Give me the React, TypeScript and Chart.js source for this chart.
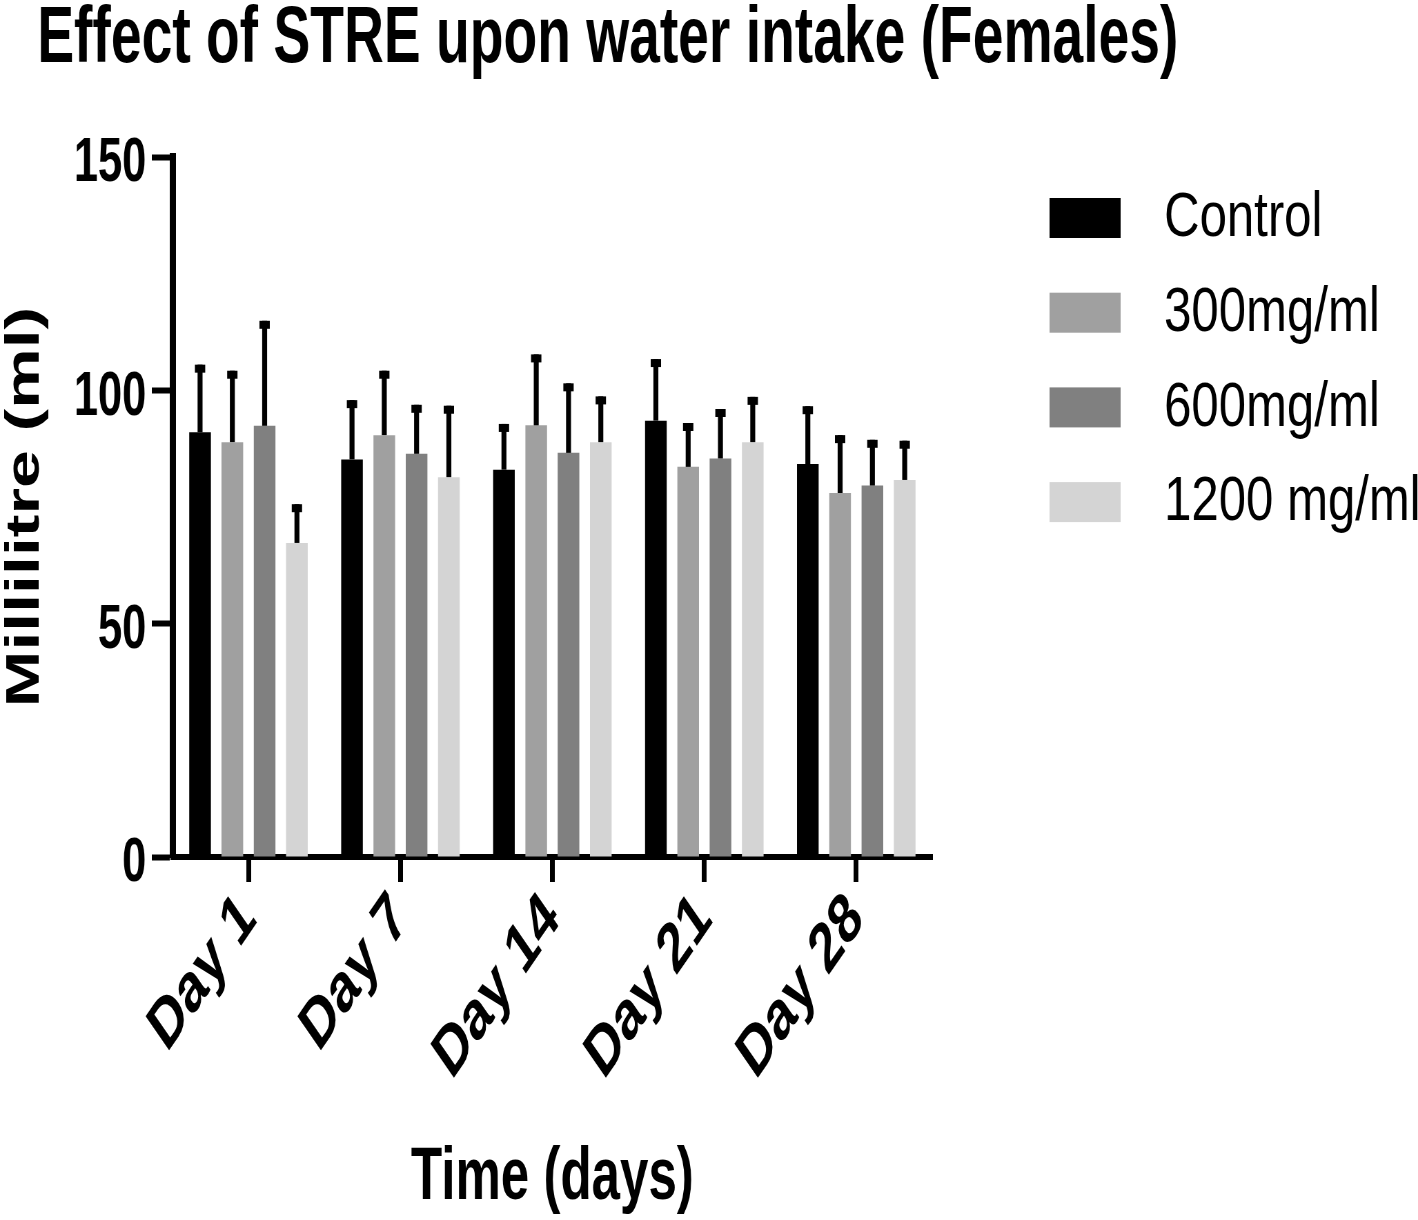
import React, { useEffect, useRef } from 'react';
import { Chart, registerables } from 'chart.js';

Chart.register(...registerables);

// ---- data ----
const categories = ['Day 1', 'Day 7', 'Day 14', 'Day 21', 'Day 28'];
const seriesNames = ['Control', '300mg/ml', '600mg/ml', '1200 mg/ml'];
const controlValues = [91.0, 85.2, 83.0, 93.5, 84.2];
const controlErrors = [14.5, 12.7, 9.8, 13.2, 12.4];
const mg300Values = [88.9, 90.4, 92.5, 83.6, 78.0];
const mg300Errors = [15.3, 13.8, 15.2, 9.4, 12.4];
const mg600Values = [92.4, 86.4, 86.6, 85.4, 79.6];
const mg600Errors = [22.5, 10.5, 14.9, 10.6, 9.8];
const mg1200Values = [67.3, 81.4, 88.9, 88.9, 80.8];
const mg1200Errors = [8.3, 15.3, 9.8, 9.7, 8.4];
const seriesColors = ['#000000', '#a0a0a0', '#808080', '#d4d4d4'];
const yTickValues = [0, 50, 100, 150];

const titleText = 'Effect of STRE upon water intake (Females)';
const yTitleText = 'Millilitre (ml)';
const xTitleText = 'Time (days)';

// The original figure is an Arial/Helvetica graph squeezed horizontally.
// The chart is laid out on a wider canvas and shown at the page width.
const SQUEEZE = 0.69;
const VIEW_W = 1418;
const VIEW_H = 1220;
const CANVAS_W = Math.round(VIEW_W / SQUEEZE);

const FONT = '"Liberation Sans", Arial, Helvetica, sans-serif';

const errorBarPlugin = {
  id: 'errorBars',
  afterDatasetsDraw(chart: any) {
    const ctx = chart.ctx;
    const yScale = chart.scales.y;
    chart.data.datasets.forEach((ds: any, di: number) => {
      const meta = chart.getDatasetMeta(di);
      meta.data.forEach((bar: any, i: number) => {
        const v = ds.data[i];
        const e = ds.errors[i];
        const yTop = yScale.getPixelForValue(v + e);
        const yBar = yScale.getPixelForValue(v);
        ctx.save();
        ctx.fillStyle = '#000000';
        ctx.fillRect(bar.x - 3.6, yTop, 7.2, yBar - yTop);
        ctx.fillRect(bar.x - 7.5, yTop, 15, 8);
        ctx.restore();
      });
    });
  },
};

const headingPlugin = {
  id: 'heading',
  afterDraw(chart: any) {
    const ctx = chart.ctx;
    ctx.save();
    ctx.font = `bold 80px ${FONT}`;
    ctx.fillStyle = '#000000';
    ctx.textAlign = 'left';
    ctx.textBaseline = 'alphabetic';
    ctx.fillText(titleText, 54, 62);
    ctx.restore();
  },
};

const sideLegendPlugin = {
  id: 'sideLegend',
  afterDraw(chart: any) {
    const ctx = chart.ctx;
    const area = chart.chartArea;
    const boxX = area.right + 170;
    const boxW = 103;
    const boxH = 40;
    const firstY = 218;
    const step = 94.7;
    ctx.save();
    ctx.font = `normal 400 63px ${FONT}`;
    ctx.textBaseline = 'middle';
    ctx.textAlign = 'left';
    chart.data.datasets.forEach((ds: any, i: number) => {
      const cy = firstY + step * i;
      ctx.fillStyle = ds.backgroundColor;
      ctx.fillRect(boxX, cy - boxH / 2, boxW, boxH);
      ctx.fillStyle = '#000000';
      ctx.save();
      ctx.translate(boxX + boxW + 63, cy + 1);
      ctx.scale(1.13, 1);
      ctx.fillText(ds.label, 0, 0);
      ctx.restore();
    });
    ctx.restore();
  },
};

export default function App() {
  const canvasRef = useRef<HTMLCanvasElement | null>(null);

  useEffect(() => {
    if (!canvasRef.current) return;
    const valueSets = [controlValues, mg300Values, mg600Values, mg1200Values];
    const errorSets = [controlErrors, mg300Errors, mg600Errors, mg1200Errors];
    const datasets = seriesNames.map((name, i) => ({
      label: name,
      data: valueSets[i],
      errors: errorSets[i],
      backgroundColor: seriesColors[i],
      borderWidth: 0,
      categoryPercentage: 0.85,
      barPercentage: 0.671,
    }));

    const chart = new Chart(canvasRef.current, {
      type: 'bar',
      data: { labels: categories, datasets: datasets as any },
      plugins: [errorBarPlugin, headingPlugin, sideLegendPlugin],
      options: {
        animation: false,
        responsive: false,
        maintainAspectRatio: false,
        devicePixelRatio: 1,
        layout: { padding: { left: 0, right: CANVAS_W - 1351, top: 157, bottom: 0 } },
        plugins: {
          legend: { display: false },
          tooltip: { enabled: false },
          title: { display: false },
        },
        scales: {
          x: {
            type: 'category',
            offset: true,
            afterFit: (scale: any) => {
              scale.height = VIEW_H - 857;
            },
            grid: {
              offset: false,
              drawOnChartArea: false,
              drawTicks: true,
              tickLength: 25,
              tickWidth: 7,
              tickColor: '#000000',
            },
            border: { display: true, width: 6, color: '#000000' },
            ticks: {
              color: '#000000',
              font: { family: FONT, size: 70, weight: 'bold' },
              minRotation: 45,
              maxRotation: 45,
              padding: -4,
              autoSkip: false,
            },
            title: {
              display: true,
              text: xTitleText,
              color: '#000000',
              font: { family: FONT, size: 74, weight: 'bold', lineHeight: 1.0 },
              padding: { top: 0, bottom: 4 },
            },
          },
          y: {
            min: 0,
            max: 150,
            afterFit: (scale: any) => {
              scale.width = 250;
            },
            afterBuildTicks: (scale: any) => {
              scale.ticks = yTickValues.map((v) => ({ value: v }));
            },
            grid: {
              drawOnChartArea: false,
              drawTicks: true,
              tickLength: 30,
              tickWidth: 6,
              tickColor: '#000000',
            },
            border: { display: true, width: 9, color: '#000000' },
            ticks: {
              color: '#000000',
              font: { family: FONT, size: 63, weight: 'bold' },
              padding: 8,
              labelOffset: 7,
            },
            title: {
              display: true,
              text: yTitleText,
              color: '#000000',
              font: { family: FONT, size: 68, weight: 'bold', lineHeight: 1.0 },
              padding: { top: 3, bottom: 0 },
            },
          },
        },
      } as any,
    });
    return () => chart.destroy();
  }, []);

  return (
    <div style={{ position: 'absolute', left: 0, top: 0, width: VIEW_W, height: VIEW_H, background: '#ffffff' }}>
      <canvas
        ref={canvasRef}
        width={CANVAS_W}
        height={VIEW_H}
        style={{ width: VIEW_W, height: VIEW_H, display: 'block' }}
      />
    </div>
  );
}
